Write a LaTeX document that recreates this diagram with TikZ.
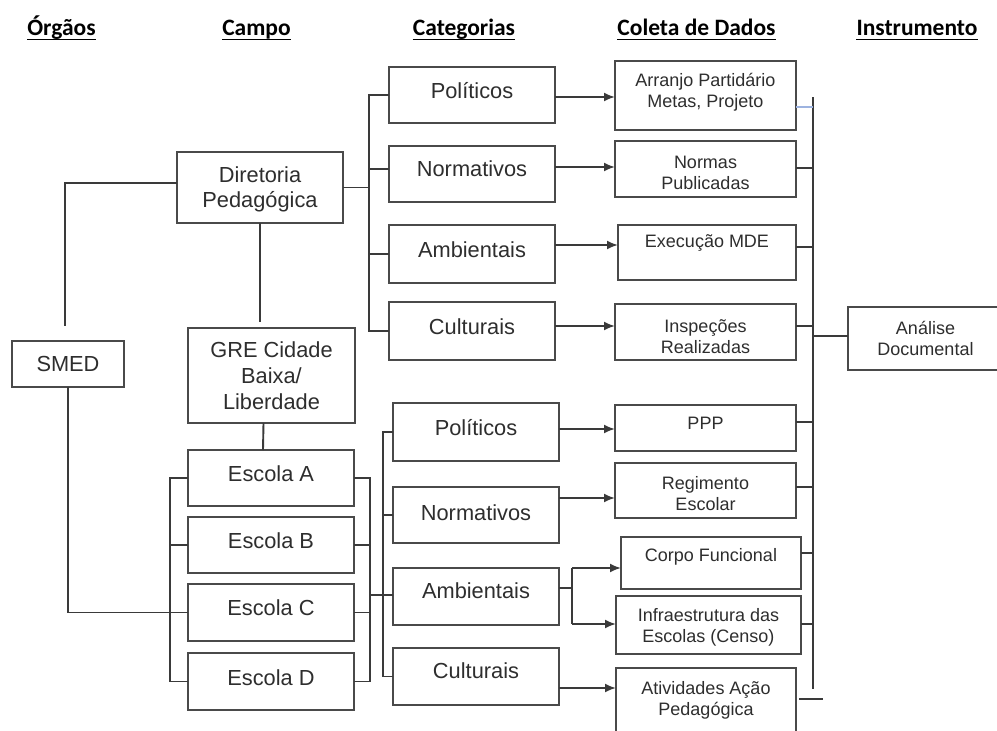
\documentclass[tikz,border=0pt]{standalone}
\usepackage{fontspec}
\setmainfont{Liberation Sans}
\newfontfamily\hdrfont{Carlito}
\usetikzlibrary{arrows.meta,calc}
\definecolor{ln}{HTML}{3A3A3A}
\definecolor{bd}{HTML}{4A4A4A}
\definecolor{tx}{HTML}{2E2E2E}
\definecolor{bl}{HTML}{9DB3E0}
\newcommand\fbig{\fontsize{21.8}{25}\selectfont}
\newcommand\fsml{\fontsize{18}{21}\selectfont}
\newcommand\fhdr{\hdrfont\bfseries\fontsize{23.5}{28}\selectfont}
\newcommand\bx[8]{%
  \pgfmathsetmacro\cx{(#2+#4)/2}\pgfmathsetmacro\cy{(#3+#5)/2}%
  \pgfmathsetmacro\ww{#4-#2}\pgfmathsetmacro\hh{#5-#3}%
  \node[box,minimum width=\ww pt,minimum height=\hh pt] (#1) at (\cx,\cy) {};%
  \node[txt,font=#7] (#1t) at (\cx,#6) {#8};}
\begin{document}
\begin{tikzpicture}[x=1pt,y=-1pt,
  box/.style={draw=bd,line width=2.1pt,inner sep=0pt,outer sep=0pt,fill=white},
  txt/.style={text=tx,align=center,inner sep=0pt},
  hdr/.style={text=black,inner sep=0pt,anchor=base,font=\fhdr},
  conn/.style={draw=ln,line width=1.9pt},
  arr/.style={conn,-{Latex[length=11pt,width=9pt]}}]
\clip (0,0) rectangle (997,731);
\fill[white] (0,0) rectangle (997,731);
% headers
\foreach \nm/\xx/\tt in {h1/61.5/Órgãos,h2/256.5/Campo,h3/464/Categorias,h4/696.5/Coleta de Dados,h5/917/Instrumento}{
  \node[hdr] (\nm) at (\xx,35) {\tt};
  \draw[line width=1.6pt] ([yshift=-4.5pt]\nm.base west) -- ([yshift=-4.5pt]\nm.base east);
}
% campo
\bx{smed}{12}{341}{124}{387}{364}{\fbig}{SMED}
\bx{dir}{177}{152}{343}{223}{189}{\fbig}{Diretoria\\Pedagógica}
\bx{gre}{188}{328}{355}{423}{376}{\fontsize{21.8}{26}\selectfont}{GRE Cidade\\Baixa/\\Liberdade}
\bx{escA}{188}{450}{354}{506}{474}{\fbig}{Escola A}
\bx{escB}{188}{517}{354}{573}{541}{\fbig}{Escola B}
\bx{escC}{188}{584}{354}{641}{608}{\fbig}{Escola C}
\bx{escD}{188}{653}{354}{710}{678}{\fbig}{Escola D}
% categorias top
\bx{pA}{389}{67}{555}{123}{91}{\fbig}{Políticos}
\bx{nA}{389}{146}{555}{202}{169}{\fbig}{Normativos}
\bx{aA}{389}{225}{555}{283}{250}{\fbig}{Ambientais}
\bx{cA}{389}{302}{555}{360}{327}{\fbig}{Culturais}
% categorias bottom
\bx{pB}{393}{403}{559}{461}{428}{\fbig}{Políticos}
\bx{nB}{393}{487}{559}{543}{513}{\fbig}{Normativos}
\bx{aB}{393}{568}{559}{625}{591}{\fbig}{Ambientais}
\bx{cB}{393}{648}{559}{705}{671}{\fbig}{Culturais}
% coleta
\bx{arr}{615}{61}{796}{130}{92}{\fsml}{Arranjo Partidário\\Metas, Projeto}
\bx{nor}{615}{141}{796}{197}{173}{\fsml}{Normas\\Publicadas}
\bx{exe}{618}{225}{796}{280}{243}{\fsml}{Execução MDE}
\bx{ins}{615}{304}{796}{360}{336.5}{\fsml}{Inspeções\\Realizadas}
\bx{ppp}{615}{405}{796}{451}{423}{\fsml}{PPP}
\bx{reg}{615}{463}{796}{518}{494}{\fsml}{Regimento\\Escolar}
\bx{cor}{621}{537}{801}{589}{557}{\fsml}{Corpo Funcional}
\bx{inf}{616}{596}{801}{654}{627.5}{\fsml}{Infraestrutura das\\Escolas (Censo)}
\bx{ati}{616}{668}{796}{745}{700.5}{\fsml}{Atividades Ação\\Pedagógica}
% instrumento
\bx{ana}{848}{307}{1003}{370}{338}{\fsml}{Análise\\Documental}
% coordinates for free ends
\coordinate (smtop) at (65,326);
\coordinate (grtop) at (260,322);
\coordinate (ibt) at (813,97);
\coordinate (ibb) at (813,689);
% campo connectors
\draw[conn] ([yshift=4.5pt]dir.west) -| (smtop);
\draw[conn] (smed.south) |- (escC.west);
\draw[conn] (dir.south) -- (grtop);
\draw[conn] ([xshift=-8pt]gre.south) -- ([xshift=-8pt]escA.north);
\draw[conn] (escA.west) -- ++(-18,0) |- (escD.west);
\draw[conn] (escB.west) -- ++(-18,0);
\draw[conn] (escC.west) -- ++(-18,0);
\draw[conn] (escA.east) -- ++(16,0) |- (escD.east);
\draw[conn] (escB.east) -- ++(16,0);
\draw[conn] (escC.east) -- ++(16,0);
\draw[conn] ([yshift=1.5pt]aB.west) -- ++(-23,0);
% category brackets
\draw[conn] (pA.west) -- ++(-20,0) |- (cA.west);
\draw[conn] ([yshift=5pt]nA.west) -- ++(-20,0);
\draw[conn] (aA.west) -- ++(-20,0);
\draw[conn] (dir.east) -- ++(26,0);
\draw[conn] (pB.west) -- ++(-10,0) |- (cB.west);
\draw[conn] (nB.west) -- ++(-10,0);
% arrows to coleta
\draw[arr] (pA.east |- 0,97) -- (arr.west |- 0,97);
\draw[arr] (nA.east |- 0,167) -- (nor.west |- 0,167);
\draw[arr] (aA.east |- 0,245) -- (exe.west |- 0,245);
\draw[arr] (cA.east |- 0,326) -- (ins.west |- 0,326);
\draw[arr] (pB.east |- 0,429) -- (ppp.west |- 0,429);
\draw[arr] (nB.east |- 0,498) -- (reg.west |- 0,498);
\draw[conn] (aB.east |- 0,588) -- ++(13,0) coordinate (ab);
\draw[arr] (ab |- 0,568) -- (cor.west |- 0,568);
\draw[arr] (ab |- 0,624) -- (inf.west |- 0,624);
\draw[conn] (ab |- 0,568) -- (ab |- 0,624);
\draw[arr] (cB.east |- 0,688) -- (ati.west |- 0,688);
% instrument bracket
\draw[conn] (ibt) -- (ibb);
\draw[draw=bl,line width=1.6pt] (arr.east |- 0,107) -- (ibt |- 0,107);
\foreach \nn/\yy in {nor/168,exe/247,ins/326,ppp/422,reg/487,cor/553,inf/624}{
  \draw[conn] (\nn.east |- 0,\yy) -- (ibt |- 0,\yy);
}
\draw[conn] (ibt |- 0,336) -- (ana.west |- 0,336);
\draw[conn] ([xshift=3pt]ati.east |- 0,699) -- ++(24,0);
\end{tikzpicture}
\end{document}
